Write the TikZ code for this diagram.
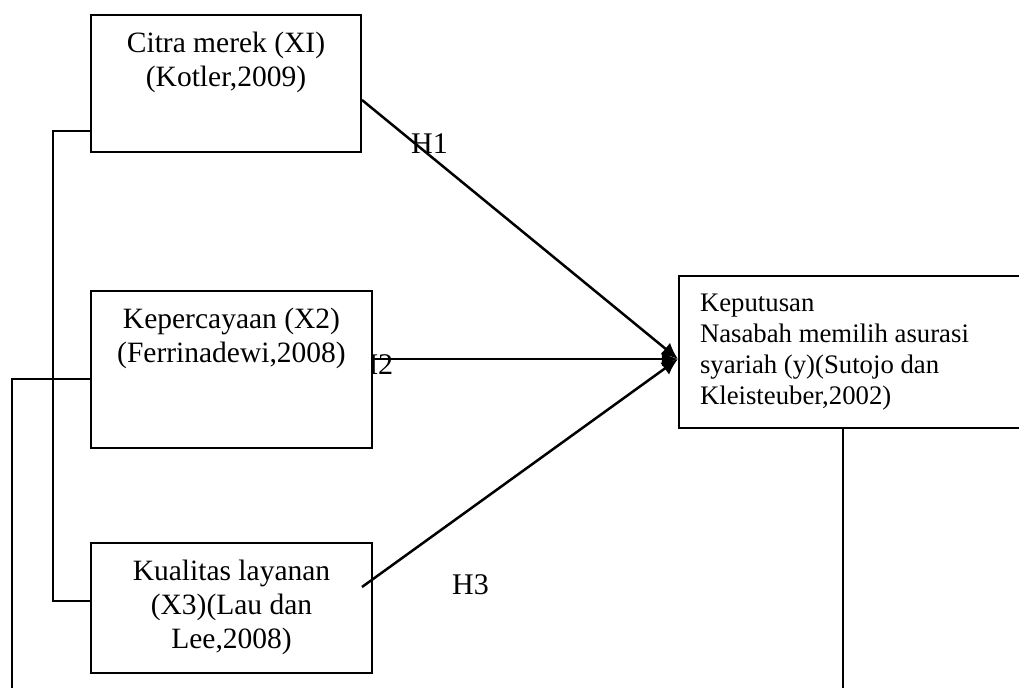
\documentclass[tikz,border=0pt]{standalone}
\usepackage{fontspec}
\setmainfont{Liberation Serif}
\usepackage{tikz}
\usetikzlibrary{positioning, arrows.meta, calc}

\begin{document}
\begin{tikzpicture}[
    % Box style for the variables
    varbox/.style={
        rectangle,
        draw=black,
        fill=white,
        line width=0.8pt,
        inner sep=0pt,
        anchor=north west,
        align=flush center,
        text height=15.2pt,
        font=\fontsize{11.8pt}{13.6pt}\selectfont
    },
    hlabel/.style={font=\fontsize{12pt}{13.6pt}\selectfont, inner sep=0pt}
]
    \useasboundingbox (0pt,0pt) rectangle (407.6pt,-275.2pt);

    % Labels (H2 sits partly under its box)
    \node[hlabel, anchor=base west] (h2) at (142.4pt,-150pt) {H2};

    % Nodes
    \node[varbox, text width=108pt, text depth=39.6pt] (citra) at (36pt,-5.6pt) {Citra merek (XI)\\(Kotler,2009)};
    \node[varbox, text width=112.4pt, text depth=47.6pt] (kepercayaan) at (36pt,-116pt) {Kepercayaan (X2)\\(Ferrinadewi,2008)};
    \node[varbox, text width=112.4pt, text depth=36.8pt] (kualitas) at (36pt,-216.8pt) {Kualitas layanan\\(X3)(Lau dan\\Lee,2008)};

    \node[varbox, align=flush left, inner xsep=8.4pt, text width=130pt, text height=14.4pt, text depth=46.4pt,
          font=\fontsize{10.7pt}{12.3pt}\selectfont] (keputusan) at (271.2pt,-110pt)
          {Keputusan\\Nasabah memilih asurasi\\syariah (y)(Sutojo dan\\Kleisteuber,2002)};

    \node[hlabel, anchor=base] (h1) at (171.8pt,-61.6pt) {H1};
    \node[hlabel, anchor=base] (h3) at (188.2pt,-238pt) {H3};

    % Coordinates
    \coordinate (tip) at ([yshift=-2.8pt]keputusan.west);
    \coordinate (h3start) at ([xshift=-4.4pt, yshift=8.4pt]kualitas.east);
    \coordinate (bl) at (4.8pt,-276pt);
    \coordinate (br) at (337.2pt,-276pt);

    % Edges
    \draw[-{Latex[length=6.5pt, width=6pt]}, line width=1pt] ([yshift=-6.6pt]citra.east) -- (tip);
    \draw[-{Latex[length=6.5pt, width=6pt]}, line width=1pt] ([yshift=4.2pt]kepercayaan.east) -- (tip);
    \draw[-{Latex[length=6.5pt, width=6pt]}, line width=1pt] (h3start) -- (tip);

    \draw[line width=0.7pt] ([yshift=-19pt]citra.west) -- ++(-14.8pt,0) |- ([yshift=2.8pt]kualitas.west);
    \draw[line width=0.7pt] ([yshift=-3.8pt]kepercayaan.west) -| (bl);
    \draw[line width=0.7pt] (keputusan.south -| br) -- (br);

\end{tikzpicture}
\end{document}
